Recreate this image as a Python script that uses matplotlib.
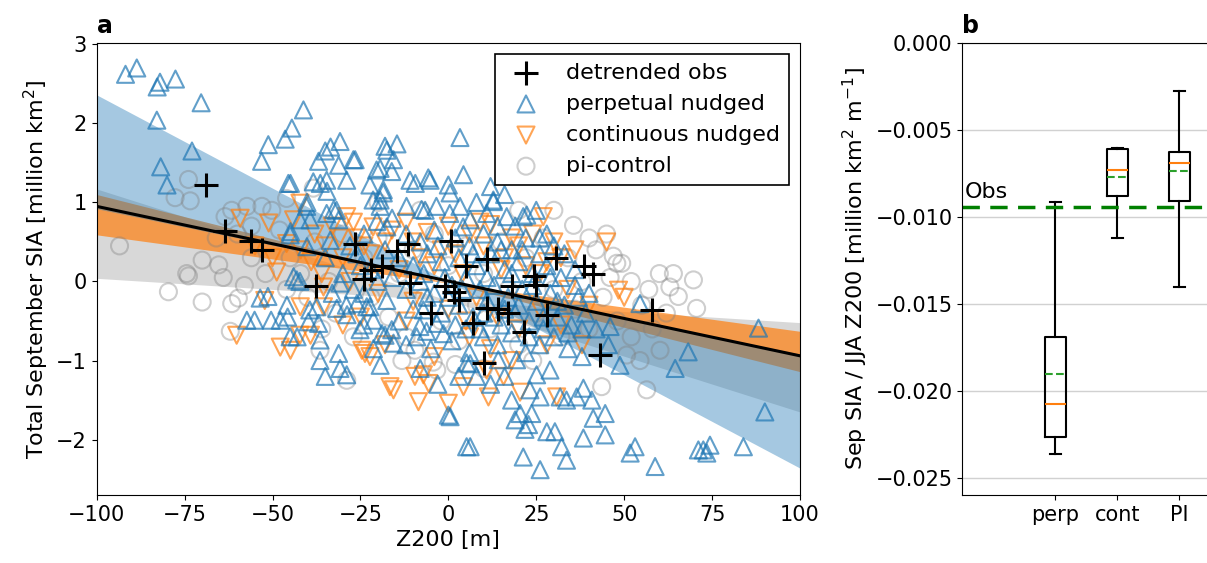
import numpy as np
import matplotlib
matplotlib.use("Agg")
import matplotlib.pyplot as plt
from matplotlib.ticker import FuncFormatter

# ---- panel a data ----
obs_pts = [(-69, 1.22), (-63.5, 0.64), (-56, 0.51), (-53, 0.40), (-37.5, -0.06), (-26.5, 0.48),
           (-24, 0.03), (-22, 0.15), (-19, 0.19), (-14.5, 0.38), (-11.5, 0.48), (-11, -0.02),
           (-1, -0.06), (0.7, 0.51), (1.7, -0.13), (3, -0.23), (5, 0.19), (11, 0.28), (-5, -0.40),
           (11, -0.34), (14, -0.35), (17, -0.40), (7, -0.52), (18, -0.06), (24.5, 0.07), (25, -0.04),
           (28, -0.42), (21.5, -0.64), (10, -1.03), (30.5, 0.30), (38.5, 0.19), (41, 0.09),
           (58, -0.36), (43, -0.93)]

perp_pts = [(-91.8, 2.62), (-88.6, 2.70), (-82.8, 2.46), (-82.0, 2.52), (-77.6, 2.56), (-82.9, 2.04),
            (-70.3, 2.26), (-72.9, 1.65), (-81.8, 1.45), (-80.0, 1.22),
            (-41.2, 2.17), (-44.5, 1.94), (-46.4, 1.80), (-51.2, 1.73), (-53.1, 1.52), (-35.0, 1.65),
            (-30.8, 1.77), (-33.5, 1.70), (-27.0, 1.54), (-36.9, 1.52), (-31.2, 1.47), (-18.0, 1.71),
            (-14.6, 1.74), (-15.6, 1.54), (-19.4, 1.43), (-17.5, 1.66), (-26.5, 1.54), (-20.4, 1.41),
            (-16.1, 1.39), (3.3, 1.82), (4.3, 1.35),
            (-45.5, 1.24), (-38.4, 1.26), (-34.6, 1.28), (-28.9, 1.28), (-22.3, 1.22), (-18.5, 1.16),
            (-10.9, 1.28), (-5.2, 1.28), (0.0, 1.22), (0.5, 1.12), (-18.5, 1.12), (-19.4, 1.03),
            (12.8, 1.01), (-11.9, 0.95), (-6.6, 0.90), (3.3, 0.95), (6.2, 0.78), (10.9, 0.86),
            (16.6, 0.82), (21.3, 0.82), (-9.4, 1.24), (-5.7, 1.31), (-44.9, 1.24), (-40.2, 1.00),
            (-36.4, 1.24), (-34.5, 1.14), (-40.3, 0.95), (-42.2, 0.78), (-34.6, 0.86), (-31.8, 0.90),
            (-45.0, 0.59), (-21.4, 1.03), (-19.4, 0.95), (-17.5, 0.69), (-33.6, 0.52), (-39.3, 0.78),
            (-32.6, 0.91), (-44.9, 0.63), (-31.2, 0.78), (-20.3, 0.76), (-7.6, 0.91), (-3.4, 0.95),
            (0.4, 0.86), (4.2, 0.69), (-40.2, 0.44), (12.8, 1.03), (22.3, 0.84),
            (-51.3, -0.19), (-55.1, -0.49), (-50.4, -0.49), (-45.7, -0.45), (-43.0, -0.70),
            (-43.1, 0.02), (-39.8, -0.51), (-36.5, -0.74), (-39.4, -0.36), (-36.5, -1.00),
            (-35.0, -1.20), (-31.2, -0.91), (-30.8, -1.10), (-28.9, -1.18), (-22.3, -0.32),
            (-21.3, -0.49), (-19.4, -1.06), (-18.0, -0.68), (-25.1, -0.61), (-7.1, -0.36),
            (-8.1, -0.57), (-6.2, -0.63), (-1.4, -0.66), (-3.3, -0.53), (0.0, -1.69), (5.2, -2.09),
            (5.2, -1.03), (-53.5, -0.21), (-57.3, -0.49), (-47.8, -0.49), (-45.9, -0.30),
            (-45.0, -0.70), (-44.0, 0.06), (-42.2, 0.00), (-37.4, -0.32), (-36.9, -0.53),
            (-31.7, -0.34), (-28.8, -0.42), (-26.0, -0.28), (-23.2, -0.32), (-24.1, -0.55),
            (-21.3, -0.85), (-18.9, -0.66), (-16.1, -0.61), (-15.6, -0.78), (-17.5, -0.24),
            (-30.8, -0.02),
            (0.5, -1.71), (6.2, -2.09), (21.3, -2.22), (26.1, -2.38), (33.6, -2.26), (32.2, -2.09),
            (38.4, -1.98), (44.6, -1.94), (41.2, -1.73), (44.6, -1.67), (51.7, -2.17), (53.1, -2.09),
            (58.8, -2.34), (71.1, -2.13), (72.5, -2.13), (73.5, -2.17), (74.4, -2.07), (83.9, -2.09),
            (90.0, -1.65), (88.2, -0.59), (68.2, -0.89), (64.5, -1.10), (54.5, -0.28), (48.8, -1.06),
            (45.5, -0.80), (46.0, -0.57), (18.0, -1.50), (19.0, -1.75), (22.8, -1.81), (21.8, -1.87),
            (23.7, -1.67), (28.0, -1.90), (30.3, -1.90), (31.8, -1.46), (33.6, -1.50), (36.5, -1.46),
            (38.4, -1.35), (40.8, -1.50), (26.1, -1.46), (20.4, -1.67), (28.9, -1.12), (25.1, -1.18),
            (23.2, -1.37), (19.4, -0.99), (14.2, -0.99), (6.2, -1.04),
            (-12, 0.6), (-8, 0.5), (-4, 0.65), (2, 0.55), (6, 0.45), (10, 0.6), (14, 0.5), (18, 0.4),
            (22, 0.55), (26, 0.35), (30, 0.45), (-14, 0.3), (-10, 0.2), (-6, 0.35), (-2, 0.25),
            (3, 0.3), (8, 0.2), (12, 0.35), (16, 0.15), (20, 0.25), (24, 0.1), (28, 0.2), (32, 0.05),
            (36, 0.15), (-12, -0.1), (-8, 0.0), (-4, -0.15), (1, -0.05), (5, 0.05), (9, -0.1),
            (13, -0.05), (17, -0.2), (21, -0.1), (25, -0.25), (29, -0.15), (33, -0.3), (37, -0.2),
            (-10, -0.35), (-2, -0.4), (3, -0.3), (7, -0.45), (11, -0.25), (15, -0.55), (19, -0.4),
            (23, -0.5), (27, -0.6), (31, -0.45), (35, -0.55), (39, -0.4), (-12, -0.8), (-5, -0.85),
            (1, -0.75), (6, -0.9), (10, -0.7), (14, -0.8), (18, -0.65), (22, -0.9), (26, -0.8),
            (30, -0.7), (34, -0.85), (38, -0.95), (42, -0.6), (-20, 0.0), (-25, 0.2), (-28, 0.45),
            (-24, 0.6), (-16, 0.8), (-35, 0.3), (-30, 0.1), (-27, -0.1), (-33, -0.15), (8, -1.2),
            (12, -1.3), (16, -1.2), (3, -1.2), (-3, -1.3), (-8, -1.1), (12, 1.2), (8, 1.0),
            (16, 1.1), (25, 0.9),
            (-14, -0.5), (-9, -0.7), (-6, -0.2), (-1, 0.05), (2, -0.55), (4, -0.1), (7, 0.35),
            (9, -0.6), (11, 0.05), (13, -0.45), (15, 0.4), (16, -0.35), (18, 0.1), (20, -0.3),
            (21, 0.4), (23, -0.7), (24, -0.05), (26, 0.55), (27, -0.45), (29, 0.05), (31, -0.25),
            (33, 0.35), (34, -0.65), (36, -0.05), (38, -0.6), (40, -0.15), (-3, 0.45), (0, -0.2),
            (5, -0.6), (10, -0.4), (-16, 0.05), (-18, 0.4), (-22, 0.15), (-26, 0.35), (-29, -0.3),
            (-24, -0.15), (-7, 0.1), (19, 0.7), (28, 0.6), (14, 0.7)]

cont_pts = [(-59.2, 0.80), (-51.1, 0.74), (-44.0, 0.78), (-42.2, 0.99), (-28.9, 0.82), (-21.4, 0.69),
            (-46.0, 0.48), (27.0, 0.82), (-60.2, -0.68), (-52.2, -0.24), (-47.8, -0.83),
            (-42.2, -0.68), (-23.7, -0.91), (-16.6, -1.33), (-48.8, 0.12), (-35.5, -0.07),
            (-44.9, -0.87), (-39.2, -0.68), (-42.1, -0.32), (-35.5, -0.32), (-24.6, -0.87),
            (-22.3, -0.95), (-15.6, -1.37), (-9.5, -1.20), (-8.5, -1.52), (-5.6, -1.29), (-7.1, -1.18),
            (0.0, -1.54), (4.3, -1.33), (11.4, -1.46), (20.4, -1.40), (30.8, -1.46), (15.7, -1.20),
            (10.9, -1.12), (48.4, -0.11),
            (-38, 0.6), (-33, 0.7), (-26, 0.55), (-18, 0.5), (-12, 0.75), (-6, 0.62), (0, 0.7),
            (6, 0.6), (12, 0.72), (18, 0.55), (24, 0.6), (30, 0.5), (36, 0.4), (-30, 0.3), (-22, 0.35),
            (-14, 0.15), (-8, 0.3), (-2, 0.4), (4, 0.1), (10, 0.45), (16, 0.3), (22, 0.2), (28, 0.25),
            (34, -0.1), (-36, 0.1), (-28, 0.0), (-20, -0.15), (-10, -0.25), (0, -0.35), (8, -0.2),
            (14, -0.45), (20, -0.6), (26, -0.35), (32, -0.55), (40, -0.3), (-30, -0.55), (-18, -0.8),
            (-4, -0.95), (6, -0.7), (18, -1.0), (38, -0.8), (-50, 0.3), (-55, 0.45), (45, 0.5),
            (50, -0.2),
            (-42, 0.4), (-39, 0.25), (-35, 0.45), (-31, 0.55), (-27, 0.75), (-24, 0.45), (-16, 0.65),
            (-10, 0.5), (-4, 0.2), (2, 0.35), (9, 0.75), (15, 0.15), (20, 0.45), (26, 0.1), (32, 0.3),
            (-25, -0.45), (-12, -0.5), (5, -0.5), (12, -0.85), (28, -0.8)]

pi_pts = [(-73.9, 1.29), (-77.7, 1.06), (-73.4, 1.02), (-93.5, 0.45), (-70.0, 0.27), (-73.9, 0.07),
          (-79.6, -0.13), (-70.0, -0.26), (-74.4, 0.10), (-61.6, -0.28), (-59.7, -0.21),
          (-62.0, -0.63), (-13.2, -1.00), (-9.5, -0.87), (-4.3, -1.02), (-3.3, -1.12), (-28.9, -1.25),
          (-36.5, -0.87), (56.4, -1.37), (43.6, -1.33), (64.0, 0.10), (69.7, 0.02), (46.9, 0.32),
          (49.3, 0.23), (63.0, -0.07), (65.4, -0.19), (70.6, -0.34), (50.7, -0.93), (54.5, -1.00),
          (60.2, -0.87), (35.6, 0.71), (47.9, 0.23), (-61.6, 0.90), (-57.3, 0.95), (-53.0, 0.95),
          (-50.2, 0.90), (-63.5, 0.82), (-38.4, 1.18), (-65.3, 0.21),
          (-66, 0.55), (-60, 0.6), (-56, 0.3), (-52, 0.1), (-48, 0.65), (-45, 0.3), (-42, 0.1),
          (-40, -0.2), (-38, 0.5), (-34, 0.0), (-32, -0.4), (-30, 0.6), (-27, -0.7), (-24, 0.3),
          (-22, -0.2), (-20, 0.55), (-17, -0.45), (-14, 0.1), (-12, -0.7), (-10, 0.4), (-7, -0.2),
          (-4, 0.6), (-2, -0.5), (0, 0.2), (3, -0.75), (5, 0.45), (8, -0.3), (10, 0.1), (12, -0.6),
          (15, 0.5), (17, -0.1), (20, -0.8), (22, 0.3), (25, -0.4), (27, 0.55), (30, -0.1),
          (32, -0.7), (34, 0.3), (36, -0.35), (38, 0.0), (40, -0.6), (42, 0.4), (44, -0.2),
          (46, 0.05), (48, -0.5), (52, 0.0), (55, -0.3), (58, -0.6), (60, 0.1), (-58, -0.05),
          (-64, 0.05), (-46, -0.1), (-36, -0.6), (2, -1.05), (10, -1.1), (24, -1.0), (30, 0.9),
          (20, 0.9), (-8, 0.9), (-20, 1.0), (-46, 1.05), (-56, 0.7), (45, 0.6), (40, 0.55),
          (52, -0.7), (57, -0.1), (62, -0.4)]

# regression fans: edge values at x = -100 and x = 100
band_x = [-100, 100]
pi_edge1, pi_edge2 = [0.04, -0.52], [1.17, -1.65]
cont_edge1, cont_edge2 = [0.59, -0.63], [1.10, -1.14]
perp_edge1, perp_edge2 = [0.92, -0.92], [2.36, -2.36]
obs_line = [0.95, -0.94]

# ---- panel b data ----
box_labels = ["perp", "cont", "PI"]
box_whislo = [-0.02362, -0.01124, -0.01407]
box_q1 = [-0.02265, -0.00881, -0.00908]
box_med = [-0.02077, -0.00730, -0.00691]
box_mean = [-0.01906, -0.00774, -0.00736]
box_q3 = [-0.01690, -0.00613, -0.00627]
box_whishi = [-0.00916, -0.00606, -0.00280]
obs_slope = -0.00947

TFS = 15   # tick labels
LFS = 16   # axis labels / legend
fig = plt.figure(figsize=(12.07, 5.63), dpi=100)
ax = fig.add_axes([0.0801, 0.1208, 0.5827, 0.8034])
ax2 = fig.add_axes([0.7974, 0.1208, 0.2055, 0.8034])

# bands
ax.fill_between(band_x, pi_edge1, pi_edge2, color="gray", alpha=0.3, lw=0, zorder=1)
ax.fill_between(band_x, cont_edge1, cont_edge2, color="C1", alpha=0.7, lw=0, zorder=1)
ax.fill_between(band_x, perp_edge1, perp_edge2, color="C0", alpha=0.4, lw=0, zorder=1)

pi = np.array(pi_pts)
cont = np.array(cont_pts)
perp = np.array(perp_pts)
obs = np.array(obs_pts)

ax.scatter(pi[:, 0], pi[:, 1], s=150, marker="o", facecolors="none", edgecolors="gray",
           alpha=0.38, linewidths=1.5, zorder=2, label="pi-control")
ax.scatter(cont[:, 0], cont[:, 1], s=150, marker="v", facecolors="none", edgecolors="C1",
           alpha=0.7, linewidths=1.5, zorder=2, label="continuous nudged")
ax.scatter(perp[:, 0], perp[:, 1], s=150, marker="^", facecolors="none", edgecolors="C0",
           alpha=0.7, linewidths=1.5, zorder=2, label="perpetual nudged")
ax.plot(band_x, obs_line, color="k", lw=2.2, zorder=3)
ax.scatter(obs[:, 0], obs[:, 1], s=280, marker="+", color="k", linewidths=2.2, zorder=4,
           label="detrended obs")

ax.set_xlim(-100, 100)
ax.set_ylim(-2.7, 3.02)
ax.set_xticks(np.arange(-100, 101, 25))
ax.set_yticks(np.arange(-2, 4, 1))
ax.tick_params(labelsize=TFS)
ax.set_xlabel("Z200 [m]", fontsize=LFS)
ax.set_ylabel("Total September SIA [million km$^2$]", fontsize=LFS)
h, l = ax.get_legend_handles_labels()
order = [3, 2, 1, 0]
leg = ax.legend([h[i] for i in order], [l[i] for i in order], loc="upper right", fontsize=LFS,
                fancybox=False, framealpha=1, edgecolor="k")
leg.get_frame().set_linewidth(1.2)
ax.text(0.0, 1.01, "a", transform=ax.transAxes, fontsize=17, fontweight="bold", va="bottom")

# ---- panel b ----
stats = []
for i in range(3):
    stats.append(dict(label=box_labels[i], whislo=box_whislo[i], q1=box_q1[i], med=box_med[i],
                      mean=box_mean[i], q3=box_q3[i], whishi=box_whishi[i], fliers=[]))
ax2.bxp(stats, positions=[1, 2, 3], widths=0.35, showmeans=True, meanline=True,
        boxprops=dict(color="k", lw=1.5), whiskerprops=dict(color="k", lw=1.5),
        capprops=dict(color="k", lw=1.5), medianprops=dict(color="C1", lw=1.5),
        meanprops=dict(color="C2", ls="--", lw=1.5))
ax2.axhline(obs_slope, color="green", ls="--", lw=2.5, dashes=(5, 3))
ax2.text(-0.47, obs_slope + 0.0003, "Obs", fontsize=LFS, va="bottom")
ax2.set_xlim(-0.5, 3.5)
ax2.set_ylim(-0.026, 0)
ax2.set_yticks([0, -0.005, -0.010, -0.015, -0.020, -0.025])
ax2.yaxis.set_major_formatter(FuncFormatter(lambda v, p: ("%.3f" % v).replace("-", "\u2212")))
ax2.grid(axis="y", color="0.82", lw=1)
ax2.set_axisbelow(True)
ax2.tick_params(labelsize=TFS)
ax2.set_ylabel("Sep SIA / JJA Z200 [million km$^2$ m$^{-1}$]", fontsize=LFS)
ax2.text(0.0, 1.01, "b", transform=ax2.transAxes, fontsize=17, fontweight="bold", va="bottom")

fig.savefig("out.png", dpi=100)
